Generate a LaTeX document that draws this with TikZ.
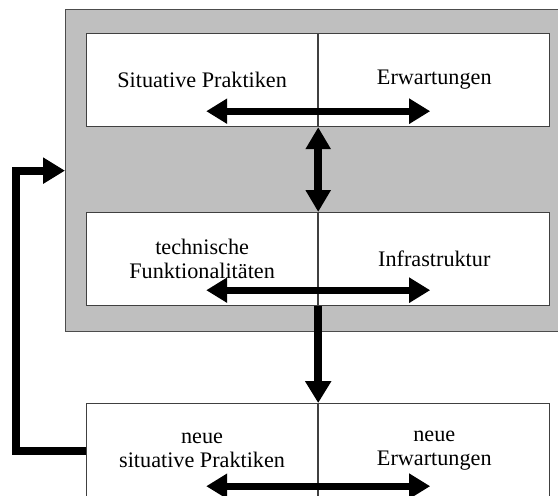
\documentclass[tikz,border=0pt]{standalone}
\usepackage{fontspec}
\setmainfont{Liberation Serif}
\usetikzlibrary{arrows.meta,calc}

\begin{document}
\begin{tikzpicture}[x=1pt,y=-1pt,
  half/.style={draw=black!75,line width=1.2pt,fill=white,minimum width=231pt,minimum height=93pt,inner sep=0pt,align=center,font=\fontsize{22.2}{24}\selectfont},
  fat/.style={line width=7pt,{Triangle[length=21pt,width=24pt]}-{Triangle[length=21pt,width=24pt]}},
  fatv/.style={line width=8pt,{Triangle[length=22pt,width=24pt]}-{Triangle[length=22pt,width=24pt]}},
  fatdown/.style={line width=8pt,-{Triangle[length=22pt,width=25pt]}}]
  \useasboundingbox (0,0) rectangle (558,496);
  \node[draw=black!70,line width=1.3pt,fill=black!25,minimum width=540pt,minimum height=322pt,inner sep=0pt,anchor=north west] (gray) at (65,9) {};

  % upper boxes
  \node[half,anchor=north west] (tl) at (86,33) {Situative Praktiken};
  \node[half,anchor=west] (tr) at (tl.east) {Erwartungen};
  \draw[fat] ($(tl.south east)+(-112,-16)$) -- ($(tl.south east)+(112,-16)$);

  \node[half,anchor=north west] (ml) at (86,212) {technische\\Funktionalitäten};
  \node[half,anchor=west] (mr) at (ml.east) {Infrastruktur};
  \draw[fat] ($(ml.south east)+(-112,-16)$) -- ($(ml.south east)+(112,-16)$);

  \draw[fatv] (tl.south east) -- (ml.north east);

  % new box below
  \node[half,minimum height=94pt,anchor=north west] (bl) at (86,403) {neue\\situative Praktiken};
  \node[half,minimum height=94pt,anchor=west] (br) at (bl.east) {neue\\Erwartungen};
  \draw[fat] ($(bl.south east)+(-112,-12)$) -- ($(bl.south east)+(112,-12)$);

  \draw[fatdown] (ml.south east) -- (bl.north east);
  \draw[fatdown] (bl.west) -- ++(-70,0) |- (gray.west);
\end{tikzpicture}
\end{document}
